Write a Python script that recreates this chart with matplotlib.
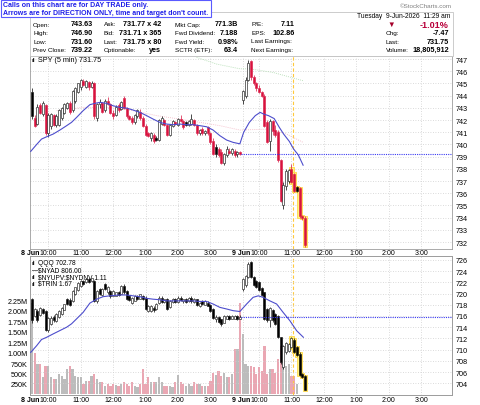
import matplotlib
matplotlib.use("Agg")
import matplotlib.pyplot as plt
from matplotlib.patches import Rectangle

plt.rcParams["font.family"] = ["Liberation Sans", "DejaVu Sans"]

# ─── DATA ─────────────────────────────────────────────────────────────────────
# 5-minute bars: 78 bars on 8 Jun, then 24 bars on 9 Jun (up to 11:25)
spy_open = [
    744.3, 742.2, 741.7, 743.2, 742.5, 743.2, 740.9, 741.5, 742.4, 741.6,
    741.6, 742.2, 742.6, 743.0, 743.4, 742.8, 743.6, 744.3, 744.7, 745.2,
    744.7, 745.1, 744.7, 745.0, 742.2, 743.3, 743.4, 742.8, 743.6, 743.3,
    742.6, 742.4, 743.2, 742.9, 743.8, 743.0, 742.3, 742.2, 741.8, 742.3,
    742.7, 742.2, 741.5, 740.9, 740.5, 740.8, 740.5, 740.4, 741.7, 742.0,
    741.6, 740.8, 741.5, 741.8, 741.6, 742.1, 741.9, 741.8, 741.6, 741.7,
    742.0, 741.6, 740.9, 741.3, 740.9, 741.4, 740.9, 740.3, 739.8, 739.6,
    739.4, 738.5, 739.1, 739.5, 739.3, 739.5, 739.2, 739.4,
    743.63, 744.0, 745.3, 746.8, 745.5, 745.0, 744.6, 744.3, 744.0, 741.8,
    740.3, 741.9, 741.2, 741.0, 738.7, 735.0, 736.6, 737.0, 738.0, 737.6,
    736.5, 736.4, 734.1, 734.0]
spy_high = [
    744.6, 742.4, 743.3, 743.4, 743.6, 743.3, 742.6, 742.6, 742.5, 742.5,
    742.9, 743.1, 743.4, 743.5, 743.6, 744.5, 744.7, 745.0, 745.4, 745.4,
    745.3, 745.2, 745.2, 745.1, 743.4, 743.7, 743.5, 743.7, 743.9, 743.4,
    742.8, 743.2, 743.4, 743.6, 744.0, 743.1, 742.4, 742.3, 742.5, 742.9,
    742.9, 742.3, 741.7, 741.0, 741.0, 740.9, 740.7, 742.1, 742.3, 742.1,
    741.7, 741.7, 742.0, 741.9, 742.2, 742.4, 742.0, 741.9, 742.0, 742.5,
    742.1, 741.7, 741.3, 741.4, 741.2, 741.5, 741.0, 740.5, 740.0, 739.8,
    739.6, 739.3, 739.9, 739.7, 739.7, 739.6, 739.5, 739.5,
    744.5, 745.5, 746.9, 746.9, 745.7, 745.1, 744.9, 744.4, 744.1, 742.0,
    742.1, 742.0, 741.6, 741.2, 738.8, 736.9, 738.0, 738.0, 738.4, 737.7,
    736.6, 736.5, 734.2, 734.1]
spy_low = [
    742.1, 741.4, 741.6, 742.5, 742.3, 740.8, 740.6, 741.3, 741.5, 741.4,
    741.5, 742.0, 742.5, 742.9, 742.5, 742.7, 743.4, 744.2, 744.5, 744.8,
    744.6, 744.5, 744.6, 742.1, 741.9, 743.0, 742.6, 742.7, 743.2, 742.5,
    742.1, 742.3, 742.7, 742.8, 742.9, 742.2, 742.0, 741.7, 741.7, 742.2,
    742.0, 741.4, 740.7, 740.6, 740.3, 740.1, 740.3, 740.3, 741.6, 741.5,
    740.7, 740.7, 741.4, 741.6, 741.5, 741.8, 741.3, 741.5, 741.5, 741.6,
    741.5, 740.8, 740.8, 740.8, 740.8, 740.8, 740.0, 739.1, 739.0, 739.0,
    738.4, 738.3, 739.0, 739.2, 739.1, 739.0, 739.0, 739.1,
    743.3, 743.8, 745.2, 745.3, 744.9, 744.4, 744.2, 743.9, 741.4, 740.1,
    739.5, 740.8, 740.6, 738.6, 735.3, 734.7, 736.3, 736.8, 736.8, 736.1,
    736.1, 734.0, 733.8, 731.6]
spy_close = [
    742.3, 741.5, 743.1, 742.6, 743.4, 740.9, 742.4, 742.5, 741.6, 742.3,
    742.8, 743.0, 743.3, 743.4, 742.7, 744.4, 744.6, 745.0, 745.3, 744.9,
    745.2, 744.7, 745.0, 742.3, 743.3, 743.5, 742.7, 743.6, 743.3, 742.6,
    742.3, 743.1, 742.8, 743.5, 743.0, 742.3, 742.1, 741.8, 742.4, 742.8,
    742.2, 741.5, 740.8, 740.7, 740.9, 740.3, 740.4, 742.0, 742.2, 741.6,
    740.8, 741.6, 741.9, 741.7, 742.1, 741.9, 741.4, 741.6, 741.9, 742.1,
    741.6, 740.9, 741.2, 740.9, 741.1, 740.9, 740.2, 739.2, 739.2, 739.1,
    738.5, 739.2, 739.6, 739.3, 739.6, 739.1, 739.4, 739.22,
    744.4, 745.3, 746.7, 745.5, 745.0, 744.6, 744.3, 744.0, 741.5, 740.2,
    741.9, 741.1, 740.8, 738.7, 735.4, 736.7, 737.8, 737.9, 736.9, 736.2,
    736.2, 734.1, 734.0, 731.75]

qqq_open = [
    719.0, 716.0, 716.9, 716.2, 717.3, 716.9, 713.5, 714.6, 715.9, 715.1,
    715.8, 716.4, 717.1, 719.0, 718.9, 718.6, 720.0, 720.6, 721.4, 722.2,
    722.0, 722.6, 722.2, 722.3, 718.6, 720.8, 719.7, 721.7, 720.2, 720.5,
    719.6, 719.6, 720.2, 720.0, 721.4, 720.5, 719.6, 718.4, 718.7, 719.6,
    719.1, 719.6, 719.3, 716.9, 716.9, 717.5, 717.2, 718.4, 719.3, 718.5,
    719.0, 717.6, 718.5, 719.0, 718.5, 719.3, 718.6, 719.0, 718.6, 719.3,
    718.5, 719.0, 717.8, 718.7, 718.0, 718.4, 718.0, 717.2, 715.4, 715.8,
    715.4, 714.8, 715.5, 716.0, 715.5, 715.5, 716.0, 715.5,
    720.8, 721.5, 722.9, 725.6, 722.9, 722.2, 722.0, 721.0, 720.2, 717.3,
    715.2, 717.0, 716.4, 716.0, 712.2, 706.9, 709.5, 709.8, 710.4, 711.8,
    710.4, 709.3, 705.6, 705.3]
qqq_high = [
    719.3, 717.4, 717.3, 717.6, 717.5, 717.0, 715.8, 716.0, 716.2, 716.5,
    717.0, 717.6, 718.2, 719.2, 719.2, 720.6, 721.2, 722.0, 722.4, 722.4,
    722.7, 722.7, 722.8, 722.5, 720.6, 721.0, 721.0, 721.9, 721.3, 720.6,
    720.6, 720.3, 720.4, 721.5, 721.7, 720.7, 719.8, 719.4, 719.8, 719.8,
    720.0, 719.8, 719.5, 718.0, 718.0, 717.7, 718.3, 719.5, 719.5, 719.1,
    719.2, 718.8, 719.2, 719.2, 719.5, 719.6, 719.1, 719.2, 719.4, 719.6,
    719.3, 719.1, 718.5, 718.9, 718.8, 718.6, 718.2, 717.4, 716.1, 716.0,
    715.5, 716.2, 716.2, 716.2, 716.1, 716.1, 716.1, 716.1,
    722.8, 723.3, 725.6, 725.8, 723.1, 722.5, 722.3, 721.2, 720.3, 717.5,
    717.6, 717.2, 716.6, 716.2, 712.3, 710.8, 711.4, 711.2, 712.3, 712.0,
    710.6, 709.5, 705.8, 705.5]
qqq_low = [
    714.8, 715.9, 715.0, 716.0, 716.3, 713.3, 713.1, 714.4, 715.0, 715.0,
    715.6, 716.2, 717.0, 718.0, 717.7, 718.5, 719.8, 720.5, 721.2, 721.6,
    721.9, 721.9, 722.0, 718.5, 718.4, 719.7, 719.5, 720.6, 720.0, 719.3,
    719.5, 719.5, 719.5, 719.9, 720.0, 718.9, 718.6, 718.2, 718.6, 718.9,
    719.0, 718.9, 717.1, 716.7, 716.7, 716.8, 717.0, 718.2, 718.3, 718.3,
    717.1, 717.4, 718.3, 718.3, 718.4, 718.6, 718.4, 718.3, 718.5, 718.4,
    718.4, 717.7, 717.6, 718.0, 717.9, 717.7, 716.7, 715.5, 715.0, 714.8,
    714.2, 714.7, 715.4, 715.3, 715.4, 715.4, 715.3, 715.4,
    720.5, 721.2, 722.7, 722.8, 721.3, 721.0, 720.4, 719.5, 715.3, 715.0,
    714.0, 715.0, 714.4, 712.0, 707.5, 706.5, 709.3, 709.6, 710.2, 709.4,
    708.8, 705.3, 704.9, 702.7]
qqq_close = [
    715.2, 717.2, 715.3, 717.4, 716.6, 713.5, 715.6, 715.7, 715.2, 716.3,
    716.9, 717.5, 718.1, 718.2, 717.9, 720.5, 721.1, 721.9, 722.2, 721.8,
    722.6, 722.0, 722.7, 718.7, 720.4, 719.9, 720.8, 720.8, 721.1, 719.6,
    720.5, 720.2, 719.7, 721.4, 720.2, 719.0, 718.8, 719.3, 719.6, 719.0,
    719.9, 719.0, 717.3, 717.8, 717.8, 717.0, 718.1, 719.3, 718.5, 719.0,
    717.3, 718.7, 719.0, 718.5, 719.3, 718.8, 719.0, 718.5, 719.3, 718.6,
    719.1, 717.9, 718.4, 718.1, 718.7, 717.8, 716.9, 715.6, 715.9, 714.9,
    714.5, 716.0, 716.0, 715.5, 716.0, 716.0, 715.5, 715.8,
    722.6, 723.1, 725.2, 723.0, 721.5, 721.2, 720.6, 719.7, 715.5, 715.2,
    717.4, 715.2, 714.6, 712.2, 707.7, 710.6, 711.2, 711.0, 712.1, 709.6,
    709.0, 705.5, 705.1, 702.78]

# SPY volume, millions of shares per bar
volume_m = [
    2.19, 1.00, 0.73, 0.73, 0.41, 0.69, 0.67, 0.41, 0.37, 0.37,
    0.49, 0.45, 0.37, 0.61, 0.69, 0.61, 0.45, 0.41, 0.41, 0.25,
    0.33, 0.33, 0.45, 0.49, 0.37, 0.29, 0.29, 0.21, 0.25, 0.21,
    0.25, 0.23, 0.21, 0.25, 0.29, 0.25, 0.21, 0.29, 0.21, 0.19,
    0.25, 0.61, 0.25, 0.41, 0.29, 0.29, 0.29, 0.41, 0.29, 0.21,
    0.21, 0.21, 0.17, 0.29, 0.47, 0.29, 0.25, 0.21, 0.25, 0.21,
    0.29, 0.25, 0.25, 0.21, 0.21, 0.21, 0.33, 0.51, 0.47, 0.55,
    0.45, 0.51, 0.41, 0.41, 0.49, 1.08, 1.08, 2.19,
    1.45, 0.73, 0.69, 0.69, 0.65, 0.49, 0.65, 0.55, 1.16, 0.49,
    0.61, 0.61, 0.51, 0.85, 1.16, 1.16, 0.69, 0.73, 0.45, 0.45,
    0.25, 0.0, 0.0, 0.0]

# moving-average overlays (bar index, value)
spy_ma_x = [-0.5, 1.7, 3.5, 5.4, 7.8, 10.3, 12.8, 14.6, 16.5, 18.9, 21.4, 23.3,
            25.1, 27.6, 30.0, 32.5, 35.0, 37.4, 39.9, 42.4, 44.8, 47.3, 49.8,
            52.2, 54.7, 57.2, 59.6, 62.1, 64.6, 67.0, 69.5, 72.0, 74.4, 76.9,
            78.3, 80.4, 82.6, 84.4, 85.7, 87.5, 89.6, 91.5, 93.1, 95.2, 96.8,
            98.5, 100.3]
spy_ma_y = [739.43, 740.0, 740.44, 740.63, 740.85, 741.18, 741.54, 741.81, 742.22,
            742.77, 743.26, 743.37, 743.45, 743.37, 743.17, 743.04, 742.98, 742.82,
            742.63, 742.36, 742.08, 741.81, 741.67, 741.62, 741.67, 741.62, 741.62,
            741.54, 741.45, 741.18, 740.72, 740.36, 740.17, 740.05,
            740.99, 741.81, 742.36, 742.63, 742.49, 742.36, 742.12, 741.4, 740.85,
            740.25, 739.62, 739.15, 738.3]
spy_ma50_x = [9.1, 18.9, 28.8, 37.4, 46.1, 54.7, 62.1, 69.5, 76.9, 88.0, 94.2, 100.3]
spy_ma50_y = [742.77, 743.04, 743.04, 742.77, 742.36, 742.08, 741.81, 741.54,
              741.18, 741.26, 740.85, 740.17]
spy_ma200_x = [60.9, 68.3, 76.9, 80.6, 89.2, 100.3]
spy_ma200_y = [747.14, 746.59, 746.2, 746.2, 745.9, 745.22]

qqq_ma_x = [-0.5, 1.7, 3.5, 5.4, 7.8, 10.3, 12.8, 14.6, 16.5, 18.9, 21.4, 23.9,
            26.3, 28.8, 32.5, 35.0, 37.4, 39.9, 42.4, 44.8, 47.3, 49.8, 54.7,
            59.6, 62.1, 64.6, 67.0, 69.5, 72.0, 74.4, 76.9, 79.4, 81.8, 83.7,
            85.5, 88.0, 90.5, 92.9, 95.4, 97.9, 100.4]
qqq_ma_y = [709.5, 710.7, 711.8, 712.2, 712.8, 713.4, 714.0, 714.6, 715.5, 716.65,
            718.3, 719.0, 719.45, 719.6, 719.75, 719.75, 719.6, 719.45, 719.15,
            719.0, 718.9, 718.7, 718.7, 718.7, 718.6, 718.6, 718.14, 717.54,
            717.25, 716.95, 716.8, 718.14, 719.33, 719.6, 719.33, 718.7, 718.14,
            716.65, 715.16, 713.38, 712.2]

SPY_PREV_CLOSE = 739.22
QQQ_PREV_CLOSE = 715.8
CALL_BAR = 96.5              # 11:05 on 9 Jun
HIGHLIGHT = range(96, 102)   # bars since the call

time_pos = [0, 6, 18, 30, 42, 54, 66, 78, 84, 96, 108, 120, 132, 144]
time_lab = ["8 Jun", "10:00", "11:00", "12:00", "1:00", "2:00", "3:00",
            "9 Jun", "10:00", "11:00", "12:00", "1:00", "2:00", "3:00"]

# ─── STYLE ────────────────────────────────────────────────────────────────────
RED = "#d8123e"
BLUE_MA = "#4d4dcc"
GRID = "#cfcfcf"
FRAME = "#9c9c9c"
W, H = 480, 406
XMIN, XMAX = -0.65, 155.4
L_PX, R_PX = 30.3, 452.0


def fx(x):
    return x / W


def fy(y):
    return 1 - y / H


def xpx(i):
    return L_PX + (i - XMIN) * (R_PX - L_PX) / (XMAX - XMIN)


def draw_candles(ax, o, h, l, c, up_col, dn_col, pad, first_prev):
    prev = first_prev
    for i in range(len(o)):
        lo_b, hi_b = min(o[i], c[i]), max(o[i], c[i])
        col = dn_col if c[i] < prev else up_col
        filled = c[i] < o[i]
        if i in HIGHLIGHT:
            ax.add_patch(Rectangle((i - 0.8, lo_b - pad), 1.6, hi_b - lo_b + 2 * pad,
                                   facecolor="#fff27e", edgecolor="#ffd84a",
                                   lw=0.6, zorder=2))
        ax.vlines(i, l[i], lo_b, color=col, lw=0.5, zorder=3)
        ax.vlines(i, hi_b, h[i], color=col, lw=0.5, zorder=3)
        ax.add_patch(Rectangle((i - 0.37, lo_b), 0.74, max(hi_b - lo_b, 0.03),
                               facecolor=col if filled else "white",
                               edgecolor=col, lw=0.4, zorder=4))
        prev = c[i]


def style_axis(ax):
    for s in ax.spines.values():
        s.set_color(FRAME)
        s.set_linewidth(0.6)
    ax.set_xlim(XMIN, XMAX)
    ax.set_xticks(time_pos[1:])
    ax.set_xticklabels([])
    ax.tick_params(axis="x", length=0)


fig = plt.figure(figsize=(4.8, 4.06), dpi=100)

# ─── PRICE PANEL (SPY) ────────────────────────────────────────────────────────
ax = fig.add_axes([fx(L_PX), fy(250), (R_PX - L_PX) / W, (250 - 57) / H])
style_axis(ax)
ax.set_ylim(731.43, 747.25)
ax.yaxis.tick_right()
ax.set_yticks(range(732, 748))
ax.tick_params(axis="y", length=0, pad=2.5, labelsize=5.2)
ax.grid(True, color=GRID, ls=(0, (1, 2)), lw=0.6)
ax.set_axisbelow(True)

ax.plot(spy_ma200_x, spy_ma200_y, color="#a8d8a8", lw=0.6, ls=(0, (1, 1.5)), zorder=2)
ax.plot(spy_ma50_x, spy_ma50_y, color="#f2b2c0", lw=0.6, ls=(0, (1, 1.5)), zorder=2)
ax.plot(spy_ma_x, spy_ma_y, color=BLUE_MA, lw=0.8, zorder=5)
ax.hlines(SPY_PREV_CLOSE, 77.5, XMAX, color="#3a3af2", lw=0.8, ls=(0, (1, 1)), zorder=5)
ax.axvline(CALL_BAR, color="#ffc93c", lw=0.8, ls=(0, (3, 2)), zorder=1)
draw_candles(ax, spy_open, spy_high, spy_low, spy_close, "black", RED, 0.12, 741.0)

fig.text(fx(32), fy(60.5), "ıl", fontsize=4.5, fontweight="bold", va="center")
fig.text(fx(38), fy(60.5), "SPY (5 min) 731.75", fontsize=5.2, va="center")

# ─── LOWER PANEL (volume + QQQ) ───────────────────────────────────────────────
axv = fig.add_axes([fx(L_PX), fy(395.7), (R_PX - L_PX) / W, (395.7 - 257) / H])
style_axis(axv)
axv.set_ylim(-0.005, 3.30)
vticks = [0.25, 0.5, 0.75, 1.0, 1.25, 1.5, 1.75, 2.0, 2.25]
axv.set_yticks(vticks)
axv.set_yticklabels(["250K", "500K", "750K", "1.00M", "1.25M", "1.50M",
                     "1.75M", "2.00M", "2.25M"])
axv.tick_params(axis="y", length=0, pad=2, labelsize=5.2)
axv.xaxis.grid(True, color=GRID, ls=(0, (1, 2)), lw=0.6)
axv.set_axisbelow(True)
prev = 741.0
vcols = []
for cl in spy_close:
    vcols.append("#bcbcbc" if cl >= prev else "#eaa7b3")
    prev = cl
axv.bar(range(len(volume_m)), volume_m, width=0.82, color=vcols, lw=0, zorder=2)

axq = axv.twinx()
style_axis(axq)
axq.set_ylim(701.95, 726.71)
axq.set_yticks(range(704, 727, 2))
axq.tick_params(axis="y", length=0, pad=2.5, labelsize=5.2)
axq.yaxis.grid(True, color=GRID, ls=(0, (1, 2)), lw=0.6)
axq.plot(qqq_ma_x, qqq_ma_y, color=BLUE_MA, lw=0.8, zorder=5)
axq.hlines(QQQ_PREV_CLOSE, 77.5, XMAX, color="#3a3af2", lw=0.8, ls=(0, (1, 1)), zorder=5)
axq.axvline(CALL_BAR, color="#ffc93c", lw=0.8, ls=(0, (3, 2)), zorder=1)
draw_candles(axq, qqq_open, qqq_high, qqq_low, qqq_close, "black", "black", 0.25, 710.0)

legend_rows = [("ıl", "QQQ 702.78"), ("—", r"\$NYAD 806.00"),
               ("ıl", r"\$NYUPV:\$NYDNV 1.11"), ("ıl", r"\$TRIN 1.67")]
for k, (icon, txt) in enumerate(legend_rows):
    yy = 264 + 6.8 * k
    fig.text(fx(32), fy(yy), icon, fontsize=4.5, fontweight="bold", va="center")
    fig.text(fx(38), fy(yy), txt, fontsize=4.8, va="center")

# time labels under both panels
for pos, lab in zip(time_pos, time_lab):
    bold = "Jun" in lab
    for yy in (253.6, 400.5):
        fig.text(fx(xpx(pos) - (1.5 if bold else 0)), fy(yy), lab,
                 fontsize=5.0, ha="center", va="center",
                 fontweight="bold" if bold else "normal")

# ─── HEADER ───────────────────────────────────────────────────────────────────
fig.add_artist(Rectangle((fx(29.5), fy(57)), (453 - 29.5) / W, (57 - 13) / H,
                         transform=fig.transFigure, facecolor="white",
                         edgecolor="#c4c4c4", lw=0.6))
fig.add_artist(Rectangle((fx(0.5), fy(17.5)), 210 / W, 17 / H,
                         transform=fig.transFigure, facecolor="white",
                         edgecolor="#5a5aff", lw=0.8))
fig.text(fx(3), fy(5.3), "Calls on this chart are for DAY TRADE only.",
         fontsize=5.0, fontweight="bold", color="#1f1fe8", va="center")
fig.text(fx(3), fy(13.3), "Arrows are for DIRECTION ONLY, time and target don't count.",
         fontsize=5.0, fontweight="bold", color="#1f1fe8", va="center")
fig.text(fx(452), fy(7), "©StockCharts.com", fontsize=4.5, color="#808080",
         ha="right", va="center")

rows_y = [25, 33.5, 42, 50.5]
table = [
    (33, 93, ["Open:", "High:", "Low:", "Prev Close:"],
     ["743.63", "746.90", "731.60", "739.22"]),
    (104, 161, ["Ask:", "Bid:", "Last:", "Optionable:"],
     ["731.77 x 42", "731.71 x 365", "731.75 x 80", "yes"]),
    (175, 238, ["Mkt Cap:", "Fwd Dividend:", "Fwd Yield:", "SCTR (ETF):"],
     ["771.3B", "7.188", "0.98%", "63.4"]),
    (251, 295, ["P/E:", "EPS:", "Last Earnings:", "Next Earnings:"],
     ["7.11", "102.86", "", ""]),
    (386, 449, ["", "Chg:", "Last:", "Volume:"],
     ["", "-7.47", "731.75", "18,805,912"]),
]
for lx, vx, labels, values in table:
    for yy, lab, val in zip(rows_y, labels, values):
        fig.text(fx(lx), fy(yy), lab, fontsize=4.6, va="center")
        fig.text(fx(vx), fy(yy), val, fontsize=5.2, fontweight="bold",
                 ha="right", va="center")

fig.text(fx(450), fy(16), "Tuesday  9-Jun-2026  11:29 am", fontsize=4.8,
         ha="right", va="center")
fig.text(fx(391), fy(25), "▼", fontsize=5.5, color="#a5002a", ha="center", va="center")
fig.text(fx(449), fy(25), "-1.01%", fontsize=6.5, fontweight="bold",
         color="#b8003a", ha="right", va="center")

fig.savefig("out.png", dpi=100)
